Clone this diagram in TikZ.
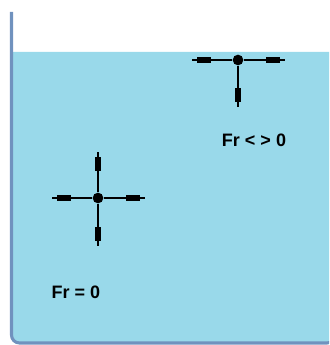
\documentclass[tikz,border=0pt]{standalone}
\usepackage{fontspec}
\setmainfont{Liberation Sans}
\usetikzlibrary{arrows.meta, decorations.markings}
\definecolor{bgWater}{HTML}{99D9EA}
\definecolor{borderTank}{HTML}{7092BE}
\definecolor{textMain}{HTML}{000000}
\tikzset{
  tankwall/.style={draw=borderTank, line width=2.3pt},
  water/.style={fill=bgWater},
  centerdot/.style={circle, fill=textMain, inner sep=0pt, minimum size=8pt},
  forcearm/.style={line width=1.1pt, color=textMain, postaction={decorate},
    decoration={markings, mark=at position -4pt with
      {\arrow{Rectangle[length=10pt, width=4.5pt]}}}},
  frlabel/.style={font=\bfseries\fontsize{13.5}{16}\selectfont, text=textMain,
    inner sep=0pt},
}
\begin{document}
\begin{tikzpicture}[x=0.75pt, y=-0.75pt]
  \useasboundingbox (0,0) rectangle (329,345);
  \clip (0,0) rectangle (329,345);

  % === Tank and water ===
  \fill[water] (11.5,52) [rounded corners=6pt] -- (11.5,343) -- (335,343) [sharp corners] -- (335,52) -- cycle;
  \draw[tankwall] (11.5,12) [rounded corners=6pt] -- (11.5,343) -- (335,343) -- (335,12);

  % === Particle near the surface ===
  \node[centerdot] (dotA) at (238,60) {};
  \path (dotA) ++(-46,0) coordinate (aL);
  \path (dotA) ++(47,0) coordinate (aR);
  \path (dotA) ++(0,47) coordinate (aD);
  \draw[forcearm] (dotA) -- (aL);
  \draw[forcearm] (dotA) -- (aR);
  \draw[forcearm] (dotA) -- (aD);
  \node[frlabel] (labA) at (254,140) {Fr < > 0};

  % === Particle deep inside ===
  \node[centerdot] (dotB) at (98,198) {};
  \path (dotB) ++(-46,0) coordinate (bL);
  \path (dotB) ++(47,0) coordinate (bR);
  \path (dotB) ++(0,-46) coordinate (bU);
  \path (dotB) ++(0,48) coordinate (bD);
  \draw[forcearm] (dotB) -- (bL);
  \draw[forcearm] (dotB) -- (bR);
  \draw[forcearm] (dotB) -- (bU);
  \draw[forcearm] (dotB) -- (bD);
  \node[frlabel] (labB) at (76,292) {Fr = 0};

\end{tikzpicture}
\end{document}
